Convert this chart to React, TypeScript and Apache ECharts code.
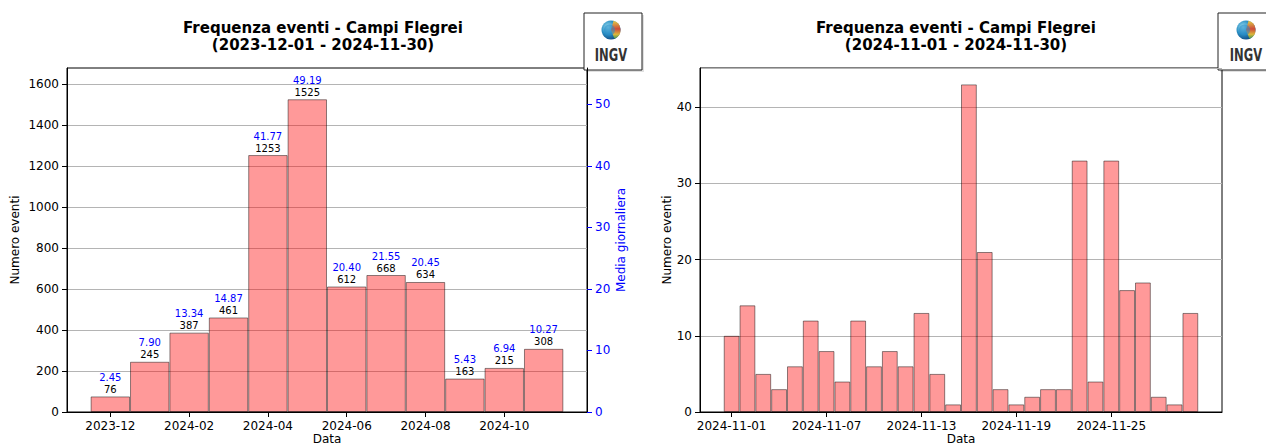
import { useEffect, useRef } from 'react';
import * as echarts from 'echarts';

// ---- Left chart: monthly frequency ----
const monthCategories = [
  '2023-12', '2024-01', '2024-02', '2024-03', '2024-04', '2024-05',
  '2024-06', '2024-07', '2024-08', '2024-09', '2024-10', '2024-11',
];
const monthlyCounts = [76, 245, 387, 461, 1253, 1525, 612, 668, 634, 163, 215, 308];
const monthlyDailyMean = [2.45, 7.9, 13.34, 14.87, 41.77, 49.19, 20.4, 21.55, 20.45, 5.43, 6.94, 10.27];
const monthTickIndexes = [0, 2, 4, 6, 8, 10];
const leftCountTicks = [0, 200, 400, 600, 800, 1000, 1200, 1400, 1600];

// ---- Right chart: daily frequency (November 2024) ----
const dayCategories = [
  '2024-11-01', '2024-11-02', '2024-11-03', '2024-11-04', '2024-11-05', '2024-11-06',
  '2024-11-07', '2024-11-08', '2024-11-09', '2024-11-10', '2024-11-11', '2024-11-12',
  '2024-11-13', '2024-11-14', '2024-11-15', '2024-11-16', '2024-11-17', '2024-11-18',
  '2024-11-19', '2024-11-20', '2024-11-21', '2024-11-22', '2024-11-23', '2024-11-24',
  '2024-11-25', '2024-11-26', '2024-11-27', '2024-11-28', '2024-11-29', '2024-11-30',
];
const dailyCounts = [
  10, 14, 5, 3, 6, 12, 8, 4, 12, 6, 8, 6, 13, 5, 1,
  43, 21, 3, 1, 2, 3, 3, 33, 4, 33, 16, 17, 2, 1, 13,
];
const dayTickIndexes = [0, 6, 12, 18, 24];

const leftTitle = 'Frequenza eventi - Campi Flegrei\n(2023-12-01 - 2024-11-30)';
const rightTitle = 'Frequenza eventi - Campi Flegrei\n(2024-11-01 - 2024-11-30)';

const FONT = 'DejaVu Sans';
const BAR_FILL = 'rgba(255,0,0,0.4)';
const BAR_EDGE = 'rgba(0,0,0,0.45)';
const GRID_LINE = '#b4b4b4';

function logo(boxX: number, cx: number) {
  return {
    type: 'group',
    children: [
      {
        type: 'rect',
        shape: { x: boxX + 2, y: 15, width: 58, height: 57 },
        style: { fill: 'rgba(0,0,0,0.12)' },
      },
      {
        type: 'rect',
        shape: { x: boxX, y: 13, width: 58, height: 57 },
        style: { fill: '#ffffff', stroke: '#222', lineWidth: 1 },
      },
      {
        type: 'circle',
        shape: { cx, cy: 30, r: 9.5 },
        style: {
          fill: new echarts.graphic.RadialGradient(0.35, 0.35, 0.75, [
            { offset: 0, color: '#9fe0f0' },
            { offset: 0.5, color: '#2a8fc4' },
            { offset: 1, color: '#0c3f7a' },
          ]),
        },
      },
      {
        type: 'sector',
        shape: { cx, cy: 30, r: 9.5, r0: 0, startAngle: -1.3, endAngle: 1.2 },
        style: {
          fill: new echarts.graphic.LinearGradient(0, 0, 0, 1, [
            { offset: 0, color: '#f2d43a' },
            { offset: 0.45, color: '#e0452e' },
            { offset: 0.75, color: '#f0c030' },
            { offset: 1, color: '#3aa050' },
          ]),
          opacity: 0.9,
        },
      },
      {
        type: 'circle',
        shape: { cx: cx - 1.5, cy: 30, r: 5.5 },
        style: { fill: 'rgba(40,140,200,0.55)' },
      },
      {
        type: 'text',
        x: cx,
        y: 55,
        scaleX: 0.68,
        style: {
          text: 'INGV',
          x: 0,
          y: 0,
          align: 'center',
          verticalAlign: 'middle',
          font: 'bold 17px "DejaVu Sans"',
          fill: '#333',
        },
      },
    ],
  };
}

export default function App() {
  const ref = useRef<HTMLDivElement>(null);

  useEffect(() => {
    if (!ref.current) return;
    const chart = echarts.init(ref.current, undefined, { renderer: 'svg' });

    const leftMax = Math.max(...monthlyCounts) * 1.1;
    const rightMeanMax = leftMax / 30;
    const dayMax = Math.max(...dailyCounts) * 1.05;
    const mPad = monthCategories.length * 0.05;
    const dPad = dayCategories.length * 0.05;

    const axisLineBlack = { show: true, onZero: false, lineStyle: { color: '#000', width: 1 } };
    const tickLabel = { fontFamily: FONT, fontSize: 12, color: '#000' };
    const plain = (v: number) => String(v);

    const titleStyle = { fontFamily: FONT, fontSize: 15, fontWeight: 'bold', color: '#000', lineHeight: 17 };
    const xNameStyle = { fontFamily: FONT, fontSize: 12, color: '#000', lineHeight: 12 };

    const option: any = {
      animation: false,
      textStyle: { fontFamily: FONT },
      title: [
        { text: leftTitle, left: 318, top: 14, textAlign: 'center', textStyle: titleStyle },
        { text: rightTitle, left: 951, top: 14, textAlign: 'center', textStyle: titleStyle },
      ],
      grid: [
        {
          left: 67, right: 679, top: 68, bottom: 34,
          show: true, borderColor: '#000', borderWidth: 1,
          containLabel: false, outerBoundsMode: 'none',
        },
        {
          left: 700, right: 44, top: 68, bottom: 34,
          show: true, borderColor: '#000', borderWidth: 1,
          containLabel: false, outerBoundsMode: 'none',
        },
      ],
      xAxis: [
        {
          type: 'value',
          gridIndex: 0,
          min: -0.5 - mPad,
          max: monthCategories.length - 0.5 + mPad,
          axisLine: axisLineBlack,
          axisTick: { show: true, length: 5, lineStyle: { color: '#000' }, customValues: monthTickIndexes },
          axisLabel: {
            ...tickLabel,
            margin: 8,
            customValues: monthTickIndexes,
            formatter: (v: number) => monthCategories[Math.round(v)] ?? '',
          },
          splitLine: { show: false },
          name: 'Data',
          nameLocation: 'middle',
          nameGap: 21,
          nameMoveOverlap: false,
          nameTextStyle: xNameStyle,
        },
        {
          type: 'value',
          gridIndex: 1,
          min: -0.5 - dPad,
          max: dayCategories.length - 0.5 + dPad,
          axisLine: axisLineBlack,
          axisTick: { show: true, length: 5, lineStyle: { color: '#000' }, customValues: dayTickIndexes },
          axisLabel: {
            ...tickLabel,
            margin: 8,
            customValues: dayTickIndexes,
            formatter: (v: number) => dayCategories[Math.round(v)] ?? '',
          },
          splitLine: { show: false },
          name: 'Data',
          nameLocation: 'middle',
          nameGap: 21,
          nameMoveOverlap: false,
          nameTextStyle: xNameStyle,
        },
      ],
      yAxis: [
        {
          type: 'value',
          gridIndex: 0,
          position: 'left',
          min: 0,
          max: leftMax,
          axisLine: axisLineBlack,
          axisTick: { show: true, length: 5, lineStyle: { color: '#000' }, customValues: leftCountTicks },
          axisLabel: { ...tickLabel, margin: 8, customValues: leftCountTicks, formatter: plain },
          splitLine: { show: true, lineStyle: { color: GRID_LINE, width: 1 } },
          name: 'Numero eventi',
          nameLocation: 'middle',
          nameGap: 46,
          nameRotate: 90,
          nameTextStyle: { fontFamily: FONT, fontSize: 12, color: '#000' },
        },
        {
          type: 'value',
          gridIndex: 0,
          position: 'right',
          min: 0,
          max: rightMeanMax,
          interval: 10,
          axisLine: axisLineBlack,
          axisTick: { show: true, length: 5, lineStyle: { color: 'blue' } },
          axisLabel: { fontFamily: FONT, fontSize: 12, color: 'blue', margin: 8, showMaxLabel: false, formatter: plain },
          splitLine: { show: false },
          name: 'Media giornaliera',
          nameLocation: 'middle',
          nameGap: 28,
          nameRotate: 90,
          nameTextStyle: { fontFamily: FONT, fontSize: 12, color: 'blue' },
        },
        {
          type: 'value',
          gridIndex: 1,
          position: 'left',
          min: 0,
          max: dayMax,
          interval: 10,
          axisLine: axisLineBlack,
          axisTick: { show: true, length: 5, lineStyle: { color: '#000' } },
          axisLabel: { ...tickLabel, margin: 8, showMaxLabel: false, formatter: plain },
          splitLine: { show: true, lineStyle: { color: GRID_LINE, width: 1 } },
          name: 'Numero eventi',
          nameLocation: 'middle',
          nameGap: 27,
          nameRotate: 90,
          nameTextStyle: { fontFamily: FONT, fontSize: 12, color: '#000' },
        },
      ],
      series: [
        {
          type: 'bar',
          xAxisIndex: 0,
          yAxisIndex: 0,
          barCategoryGap: '0%',
          data: monthlyCounts.map((c, i) => [i, c]),
          itemStyle: { color: BAR_FILL, borderColor: BAR_EDGE, borderWidth: 1 },
          label: {
            show: true,
            position: 'top',
            distance: 1,
            formatter: (p: any) => {
              const i = p.dataIndex;
              return `{m|${monthlyDailyMean[i].toFixed(2)}}\n{c|${monthlyCounts[i]}}`;
            },
            rich: {
              m: { fontFamily: FONT, fontSize: 10, color: 'blue', lineHeight: 12 },
              c: { fontFamily: FONT, fontSize: 10, color: '#000', lineHeight: 12 },
            },
          },
        },
        {
          type: 'bar',
          xAxisIndex: 1,
          yAxisIndex: 2,
          barCategoryGap: '0%',
          data: dailyCounts.map((c, i) => [i, c]),
          itemStyle: { color: BAR_FILL, borderColor: BAR_EDGE, borderWidth: 1 },
        },
      ],
      graphic: [logo(584, 611), logo(1218, 1246)],
    };

    chart.setOption(option);
    return () => chart.dispose();
  }, []);

  return (
    <div
      ref={ref}
      style={{ position: 'fixed', left: 0, top: 0, width: 1266, height: 446, background: '#fff' }}
    />
  );
}
